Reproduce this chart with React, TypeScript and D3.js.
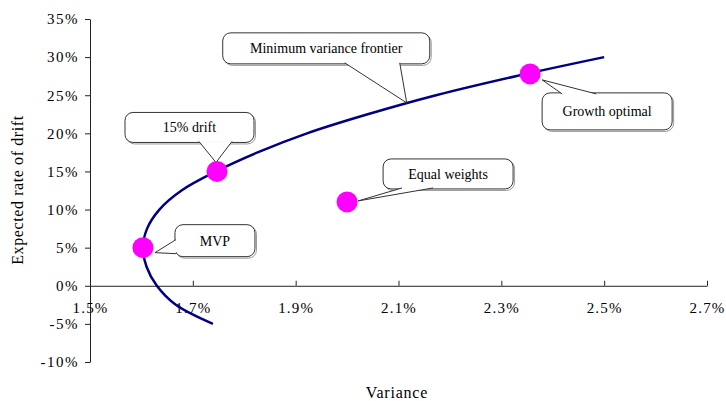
import { useEffect, useRef } from "react";
import * as d3 from "d3";

// frontier (variance %, expected drift %)
const frontierDrift = [-5, -2.5, 0, 2.5, 5, 7.5, 10, 12.5, 15, 17.5, 20, 22.5, 25, 27.5, 30];
const frontierVariance = [1.739, 1.667, 1.63, 1.61, 1.603, 1.611, 1.635, 1.678, 1.745, 1.826, 1.922, 2.04, 2.173, 2.328, 2.5];

const pointLabels = ["MVP", "15% drift", "Growth optimal", "Equal weights"];
const pointVariance = [1.603, 1.747, 2.356, 2.0];
const pointDrift = [5, 15, 27.8, 11];

const xTicks = [1.5, 1.7, 1.9, 2.1, 2.3, 2.5, 2.7];
const yTicks = [-10, -5, 0, 5, 10, 15, 20, 25, 30, 35];

// callouts: anchor (variance, drift); box [dx, dy, w, h], wedge base points and tip, all relative to anchor in px
const callouts = [
  { text: "Minimum variance frontier", v: 2.116, d: 24, box: [-184, -70, 207, 31], base: [[-62, -40], [-7, -40]], tip: [0, 0] },
  { text: "15% drift", v: 1.747, d: 15, box: [-92, -59, 129, 30], base: [[-18, -30], [15, -30]], tip: [-1, -9] },
  { text: "MVP", v: 1.603, d: 5, box: [32, -23, 80, 32], base: [[33, -8], [33, 6]], tip: [12, 5] },
  { text: "Equal weights", v: 2.0, d: 11, box: [36, -43, 130, 30], base: [[55, -14], [86, -14]], tip: [11, -1] },
  { text: "Growth optimal", v: 2.356, d: 27.8, box: [12, 19, 130, 37], base: [[32, 20], [66, 20]], tip: [12, 6] },
];

export default function App() {
  const ref = useRef<SVGSVGElement | null>(null);
  const width = 726;
  const height = 401;

  useEffect(() => {
    if (!ref.current) return;
    const svg = d3.select(ref.current);
    svg.selectAll("*").remove();

    const x = d3.scaleLinear().domain([1.5, 2.7]).range([90, 707]);
    const y = d3.scaleLinear().domain([-10, 35]).range([362, 19]);
    const font = "'Liberation Serif', 'Times New Roman', serif";

    // y axis
    const gy = svg
      .append("g")
      .attr("transform", `translate(${x(1.5)},0)`)
      .call(
        d3.axisLeft(y).tickValues(yTicks).tickSize(5).tickSizeOuter(0).tickPadding(6)
          .tickFormat((d) => `${d}%`)
      );
    gy.selectAll("text")
      .attr("font-family", font)
      .attr("font-size", 15)
      .attr("letter-spacing", 1.5)
      .attr("fill", "#000");
    gy.selectAll("line,path").attr("stroke", "#222");

    // x axis at 0%
    const gx = svg
      .append("g")
      .attr("transform", `translate(0,${y(0)})`)
      .call(
        d3.axisBottom(x).tickValues(xTicks).tickSizeInner(-5).tickSizeOuter(0).tickPadding(17)
          .tickFormat((d) => `${(d as number).toFixed(1)}%`)
      );
    gx.selectAll("text")
      .attr("font-family", font)
      .attr("font-size", 15)
      .attr("letter-spacing", 1.2)
      .attr("fill", "#000");
    gx.selectAll("line,path").attr("stroke", "#222");

    // titles
    svg.append("text")
      .attr("transform", `translate(23,190) rotate(-90)`)
      .attr("text-anchor", "middle")
      .attr("font-family", font)
      .attr("font-size", 16)
      .attr("letter-spacing", 0.6)
      .text("Expected rate of drift");
    svg.append("text")
      .attr("x", 397)
      .attr("y", 398)
      .attr("text-anchor", "middle")
      .attr("font-family", font)
      .attr("font-size", 16)
      .attr("letter-spacing", 0.8)
      .text("Variance");

    // frontier
    const pts = frontierVariance.map((v, i) => [v, frontierDrift[i]] as [number, number]);
    const line = d3.line<[number, number]>()
      .x((d) => x(d[0]))
      .y((d) => y(d[1]))
      .curve(d3.curveCatmullRom.alpha(0.5));
    svg.append("path")
      .attr("d", line(pts))
      .attr("fill", "none")
      .attr("stroke", "#000080")
      .attr("stroke-width", 2.5);

    // callouts
    callouts.forEach((c) => {
      const ax = x(c.v);
      const ay = y(c.d);
      const [bx, by, bw, bh] = c.box;
      const g = svg.append("g").attr("transform", `translate(${ax},${ay})`);
      g.append("rect")
        .attr("x", bx + 1.5).attr("y", by + 1.5)
        .attr("width", bw).attr("height", bh)
        .attr("rx", 8)
        .attr("fill", "none")
        .attr("stroke", "#999")
        .attr("stroke-width", 1);
      g.append("rect")
        .attr("x", bx).attr("y", by)
        .attr("width", bw).attr("height", bh)
        .attr("rx", 8)
        .attr("fill", "#fff")
        .attr("stroke", "#333")
        .attr("stroke-width", 1);
      const [b1, b2] = c.base;
      g.append("path")
        .attr("d", `M${b1[0]},${b1[1]}L${c.tip[0]},${c.tip[1]}L${b2[0]},${b2[1]}`)
        .attr("fill", "#fff")
        .attr("stroke", "#333")
        .attr("stroke-width", 1);
      g.append("text")
        .attr("x", bx + bw / 2)
        .attr("y", by + bh / 2 + 5)
        .attr("text-anchor", "middle")
        .attr("font-family", font)
        .attr("font-size", 14)
        .text(c.text);
    });

    // points on top
    svg.selectAll("circle.pt")
      .data(pointLabels)
      .join("circle")
      .attr("class", "pt")
      .attr("cx", (_, i) => x(pointVariance[i]))
      .attr("cy", (_, i) => y(pointDrift[i]))
      .attr("r", 10.5)
      .attr("fill", "#ff00ff");
  }, []);

  return (
    <svg
      ref={ref}
      width={width}
      height={height}
      style={{ position: "absolute", left: 0, top: 0, background: "#fff" }}
    />
  );
}
